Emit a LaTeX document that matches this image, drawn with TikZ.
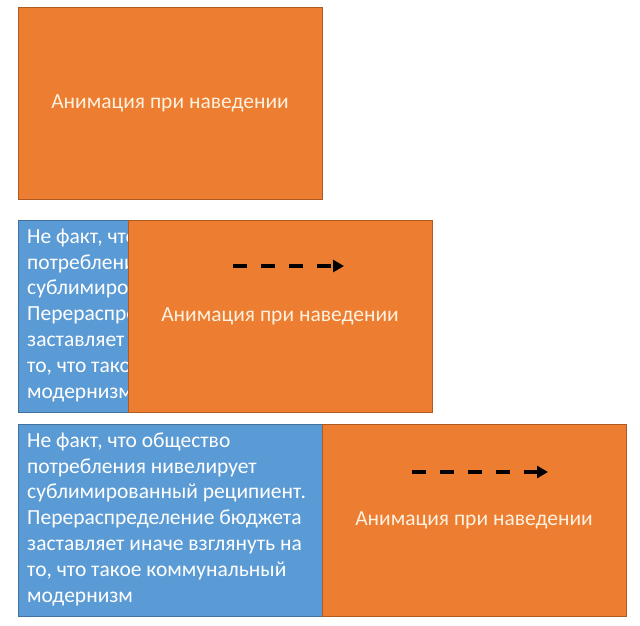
\documentclass[tikz,border=0pt]{standalone}
\usepackage{fontspec}
\setmainfont{Carlito}
\usetikzlibrary{arrows.meta}

\definecolor{naranja}{HTML}{ED7D31}
\definecolor{naranjaborde}{HTML}{AE5A21}
\definecolor{azul}{HTML}{5B9BD5}
\definecolor{azulborde}{HTML}{41719C}
\definecolor{crema}{HTML}{FDF1E0}

\newcommand{\parrafo}{%
  \begin{tabular}{@{}l@{}}
    Не факт, что общество\\
    потребления нивелирует\\
    сублимированный реципиент.\\
    Перераспределение бюджета\\
    заставляет иначе взглянуть на\\
    то, что такое коммунальный\\
    модернизм
  \end{tabular}}

\begin{document}
\begin{tikzpicture}[x=1pt,y=-1pt,
  every node/.style={inner sep=0pt,font=\fontsize{21.5}{25.8}\selectfont},
  caja/.style={rectangle,fill=naranja,draw=naranjaborde,minimum width=304pt,minimum height=192pt,text=crema},
  cajaazul/.style={rectangle,fill=azul,draw=azulborde,minimum width=304pt,minimum height=192pt},
  texto/.style={anchor=north west,text=white},
  flecha/.style={line width=4pt,dash pattern=on 14pt off 14pt,-{Triangle[length=11pt,width=12pt]}}]
  \useasboundingbox (0,0) rectangle (640,625);

  % Bloque 1
  \node[caja] (anim1) at (170,103) {Анимация при наведении};

  % Bloque 2 (texto cubierto por la caja naranja)
  \node[cajaazul] (azul2) at (170,316) {};
  \begin{scope}
    \clip (azul2.north west) rectangle (128,412);
    \node[texto] (texto2) at (27,225) {\parrafo};
  \end{scope}
  \node[caja] (anim2) at (280,316) {Анимация при наведении};
  \coordinate (f2a) at (233,266);
  \coordinate (f2b) at (344,266);
  \draw[flecha] (f2a) -- (f2b);

  % Bloque 3
  \node[cajaazul] (azul3) at (170,520) {};
  \node[texto] (texto3) at (27,429) {\parrafo};
  \node[caja] (anim3) at (474,520) {Анимация при наведении};
  \coordinate (f3a) at (412,472);
  \coordinate (f3b) at (548,472);
  \draw[flecha] (f3a) -- (f3b);
\end{tikzpicture}
\end{document}
